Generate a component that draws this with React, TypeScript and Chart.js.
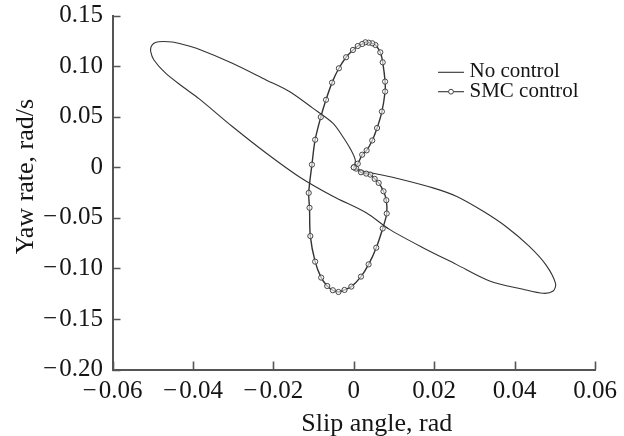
import React, { useEffect, useRef } from 'react';
import { Chart, registerables } from 'chart.js';

Chart.register(...registerables);

// ---- data ----
const xTickValues = [-0.06, -0.04, -0.02, 0, 0.02, 0.04, 0.06];
const yTickValues = [0.15, 0.1, 0.05, 0, -0.05, -0.1, -0.15, -0.2];
const seriesNames = ['No control', 'SMC control'];
const xAxisTitle = 'Slip angle, rad';
const yAxisTitle = 'Yaw rate, rad/s';

const noControl: [number, number][] = [
  [0, 0], [0.0004, 0.007], [-0.0008, 0.018], [-0.003, 0.032], [-0.0052, 0.0438],
  [-0.0102, 0.0586], [-0.016, 0.075], [-0.0218, 0.0865], [-0.0302, 0.103],
  [-0.0385, 0.1168], [-0.0426, 0.1217], [-0.0451, 0.124], [-0.0485, 0.1243],
  [-0.0497, 0.1227], [-0.0504, 0.1193], [-0.0505, 0.1144], [-0.0497, 0.1062],
  [-0.0468, 0.0931], [-0.0426, 0.0799], [-0.0385, 0.068], [-0.0302, 0.0404],
  [-0.0218, 0.0142], [-0.0135, -0.0095], [-0.0052, -0.0286], [0.0031, -0.045],
  [0.0089, -0.0614], [0.0172, -0.0795], [0.0255, -0.096], [0.0338, -0.1124],
  [0.0421, -0.1206], [0.0471, -0.1246], [0.0496, -0.1223], [0.0502, -0.1150],
  [0.0478, -0.0965], [0.0436, -0.078], [0.038, -0.059],
  [0.0322, -0.0435], [0.0255, -0.0286], [0.0197, -0.0203], [0.0114, -0.0115],
  [0.006, -0.0068], [0.0025, -0.004], [0, 0],
];

const smcControl: [number, number][] = [
  [0, 0], [0.001, 0.0036], [0.0021, 0.0125], [0.0032, 0.0168], [0.0046, 0.0266],
  [0.0058, 0.0389], [0.007, 0.0552], [0.0078, 0.075], [0.0078, 0.0848],
  [0.0072, 0.1039], [0.0066, 0.1138], [0.0054, 0.121], [0.0046, 0.1227],
  [0.0037, 0.1233], [0.0029, 0.1237], [0.0021, 0.122], [0.001, 0.12],
  [-0.0002, 0.1161], [-0.0019, 0.1089], [-0.0037, 0.098], [-0.0054, 0.0838],
  [-0.0069, 0.0668], [-0.0082, 0.0497], [-0.0096, 0.0273], [-0.0104, 0.0027],
  [-0.0112, -0.0253], [-0.011, -0.04], [-0.0108, -0.068], [-0.0096, -0.0933],
  [-0.0081, -0.1091], [-0.0066, -0.1174], [-0.0052, -0.1216], [-0.0038, -0.1233],
  [-0.0023, -0.1213], [-0.0006, -0.118], [0.0018, -0.1081], [0.0037, -0.096],
  [0.0056, -0.0795], [0.0072, -0.0605], [0.0082, -0.0457], [0.0081, -0.0325],
  [0.0074, -0.0237], [0.0062, -0.0154], [0.0052, -0.0114], [0.0041, -0.0072],
  [0.0031, -0.0062], [0.0018, -0.0049], [0.0006, -0.0013], [0, 0],
];

const FONT = '"Liberation Serif", "DejaVu Serif", serif';
const INK = '#151515';
const AXIS = '#555';

const fmt = (v: number) =>
  Math.abs(v) < 1e-9 ? '0' : (v < 0 ? '\u2212\u200A' : '') + Math.abs(v).toFixed(2);

const decorPlugin = {
  id: 'decor',
  afterDraw(chart: any) {
    const { ctx, chartArea: a, scales } = chart;
    const xs = scales.x;
    const ys = scales.y;
    ctx.save();
    // inward tick marks
    ctx.strokeStyle = AXIS;
    ctx.lineWidth = 1.6;
    ctx.beginPath();
    yTickValues.forEach((v) => {
      const py = Math.round(ys.getPixelForValue(v)) + 0.5;
      ctx.moveTo(a.left, py);
      ctx.lineTo(a.left + 8, py);
    });
    xTickValues.forEach((v) => {
      const px = Math.round(xs.getPixelForValue(v)) + 0.5;
      ctx.moveTo(px, a.bottom);
      ctx.lineTo(px, a.bottom - 8);
    });
    ctx.stroke();

    // axis titles
    ctx.fillStyle = INK;
    ctx.font = `26px ${FONT}`;
    ctx.textAlign = 'center';
    ctx.textBaseline = 'alphabetic';
    ctx.fillText(xAxisTitle, (a.left + a.right) / 2 + 23, 431);
    ctx.save();
    ctx.translate(33, (a.top + a.bottom) / 2 - 16);
    ctx.rotate(-Math.PI / 2);
    ctx.fillText(yAxisTitle, 0, 0);
    ctx.restore();

    // legend
    const rows = [72.3, 91.7];
    ctx.font = `21px ${FONT}`;
    ctx.textAlign = 'left';
    seriesNames.forEach((name, i) => {
      const y = rows[i];
      ctx.strokeStyle = '#333';
      ctx.lineWidth = 1.1;
      ctx.beginPath();
      ctx.moveTo(438, y);
      ctx.lineTo(464, y);
      ctx.stroke();
      if (i === 1) {
        ctx.beginPath();
        ctx.arc(451, y, 2.4, 0, Math.PI * 2);
        ctx.fillStyle = '#fff';
        ctx.fill();
        ctx.lineWidth = 1;
        ctx.strokeStyle = '#444';
        ctx.stroke();
      }
      ctx.fillStyle = INK;
      ctx.fillText(name, 469.5, y + 5);
    });
    ctx.restore();
  },
};

export default function App() {
  const ref = useRef<HTMLCanvasElement | null>(null);
  useEffect(() => {
    if (!ref.current) return;
    const chart = new Chart(ref.current, {
      type: 'scatter',
      data: {
        datasets: [
          {
            label: seriesNames[1],
            data: smcControl.map(([x, y]) => ({ x, y })),
            showLine: true,
            borderColor: '#333',
            borderWidth: 1.4,
            pointRadius: 2.6,
            pointBorderWidth: 1,
            pointBorderColor: '#444',
            pointBackgroundColor: 'rgba(255,255,255,0.6)',
            tension: 0.3,
            fill: false,
          },
          {
            label: seriesNames[0],
            data: noControl.map(([x, y]) => ({ x, y })),
            showLine: true,
            borderColor: '#333',
            borderWidth: 1.1,
            pointRadius: 0,
            tension: 0.3,
            fill: false,
          },
        ],
      },
      options: {
        animation: false,
        responsive: false,
        devicePixelRatio: 1,
        layout: { padding: { left: 0, right: 29, top: 15.7, bottom: 0 } },
        plugins: { legend: { display: false }, tooltip: { enabled: false } },
        scales: {
          x: {
            type: 'linear',
            min: -0.06,
            max: 0.06,
            afterBuildTicks: (s: any) => {
              s.ticks = xTickValues.map((v) => ({ value: v }));
            },
            afterFit: (s: any) => {
              s.height = 66.5;
            },
            ticks: {
              callback: (v: any) => fmt(Number(v)),
              font: { family: FONT, size: 25, lineHeight: 1.72 },
              color: INK,
              padding: 0,
              maxRotation: 0,
              autoSkip: false,
            },
            grid: { display: false, drawTicks: false, tickLength: 0 },
            border: { display: true, color: AXIS, width: 2 },
          },
          y: {
            type: 'linear',
            min: -0.2,
            max: 0.15,
            afterBuildTicks: (s: any) => {
              s.ticks = yTickValues.map((v) => ({ value: v }));
            },
            afterFit: (s: any) => {
              s.width = 112.5;
            },
            ticks: {
              callback: (v: any) => fmt(Number(v)),
              font: { family: FONT, size: 25, lineHeight: 0.4 },
              color: INK,
              padding: 9.5,
              autoSkip: false,
            },
            grid: { display: false, drawTicks: false, tickLength: 0 },
            border: { display: true, color: AXIS, width: 2 },
          },
        },
      },
      plugins: [decorPlugin],
    });
    return () => chart.destroy();
  }, []);
  return (
    <div style={{ position: 'absolute', left: 0, top: 0, width: 624, height: 436, background: '#fff' }}>
      <canvas ref={ref} width={624} height={436} />
    </div>
  );
}
